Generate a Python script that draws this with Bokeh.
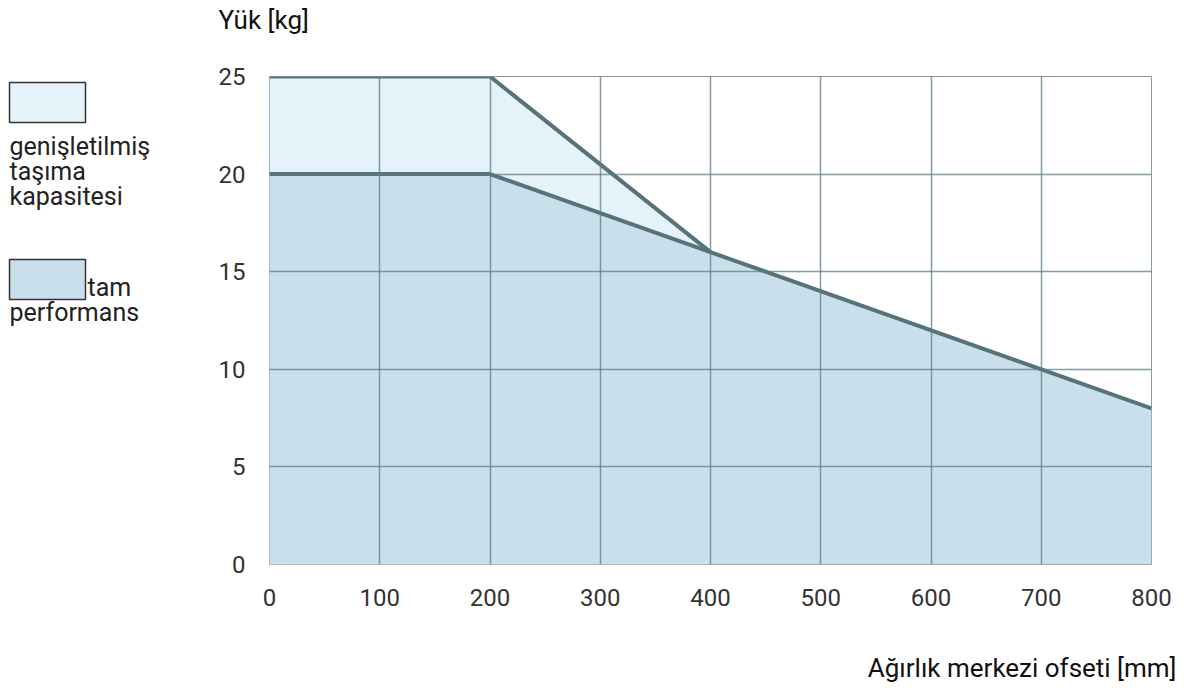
from bokeh.plotting import figure
from bokeh.layouts import row
from bokeh.models import Range1d, Title
from bokeh.core.properties import value
from bokeh.embed import file_html
from bokeh.resources import INLINE

# data
offset_full = [0, 200, 400, 800]
load_full = [20, 20, 16, 8]
offset_ext = [0, 200, 400]
load_ext = [25, 25, 16]
x_ticks = [0, 100, 200, 300, 400, 500, 600, 700, 800]
y_ticks = [0, 5, 10, 15, 20, 25]
legend_ext = ["genişletilmiş", "taşıma", "kapasitesi"]
legend_full = ["tam", "performans"]
y_title = "Yük [kg]"
x_title = "Ağırlık merkezi ofseti [mm]"

FONT = "Roboto"
FS = "24px"
FS_LEG = "25px"
FS_TITLE = "26px"
FILL_EXT = "#e6f2f9"
FILL_FULL = "#c9e0ec"
LINE_C = "#587279"
GRID_C = "#5b7c85"
H = 689
TOP, BOTTOM = 76, 564

# legend figure (page-pixel coordinates; its frame is aligned with the main frame)
lg = figure(width=208, height=H, output_backend="svg", toolbar_location=None,
            x_range=Range1d(0, 208), y_range=Range1d(BOTTOM, TOP),
            min_border=0, min_border_top=TOP, min_border_bottom=H - BOTTOM,
            outline_line_color=None)
lg.axis.visible = False
lg.grid.visible = False
lg.quad(left=[9, 9], right=[85, 85], top=[82, 259], bottom=[122, 299],
        fill_color=[FILL_EXT, FILL_FULL], line_color="#333333", line_width=1.5)
lg.text(x=[9, 9, 9], y=[146, 171, 196], text=legend_ext,
        text_font=value(FONT), text_font_size=FS_LEG, text_baseline="middle",
        text_color="#222222")
lg.text(x=[87, 9], y=[287, 312], text=legend_full,
        text_font=value(FONT), text_font_size=FS_LEG, text_baseline="middle",
        text_color="#222222")

# main figure
p = figure(width=979, height=H, output_backend="svg", toolbar_location=None,
           x_range=Range1d(0, 800), y_range=Range1d(0, 25),
           min_border_left=61, min_border_right=36, min_border_top=TOP,
           min_border_bottom=H - BOTTOM, outline_line_color=GRID_C, outline_line_alpha=0.75)
p.varea(x=offset_ext, y1=[0] * len(offset_ext), y2=load_ext, fill_color=FILL_EXT)
p.varea(x=offset_full, y1=[0] * len(offset_full), y2=load_full, fill_color=FILL_FULL)
p.line(offset_ext, load_ext, line_color=LINE_C, line_width=4)
p.line(offset_full, load_full, line_color=LINE_C, line_width=4)

p.xaxis.ticker = x_ticks
p.yaxis.ticker = y_ticks
for ax in (p.xaxis, p.yaxis):
    ax.axis_line_color = None
    ax.major_tick_line_color = None
    ax.minor_tick_line_color = None
    ax.major_label_text_font = FONT
    ax.major_label_text_font_size = FS
    ax.major_label_text_color = "#333333"
p.xaxis.major_label_standoff = 18
p.yaxis.major_label_standoff = 18
p.grid.level = "overlay"
p.grid.grid_line_color = GRID_C
p.grid.grid_line_alpha = 0.75
p.grid.grid_line_width = 1.5

# spacers (closest to the frame), then the axis titles
p.add_layout(Title(text=" ", standoff=38, text_font_size="1px"), "above")
p.add_layout(Title(text=y_title, align="left", offset=-51, standoff=2,
                   text_font=FONT, text_font_size=FS_TITLE, text_font_style="normal",
                   text_color="#111111"), "above")
p.add_layout(Title(text=" ", standoff=36, text_font_size="1px"), "below")
p.add_layout(Title(text=x_title, align="right", offset=-25, standoff=6,
                   text_font=FONT, text_font_size=FS_TITLE, text_font_style="normal",
                   text_color="#111111"), "below")

layout = row(lg, p, spacing=0)
open("out.html", "w").write(file_html(layout, INLINE))
